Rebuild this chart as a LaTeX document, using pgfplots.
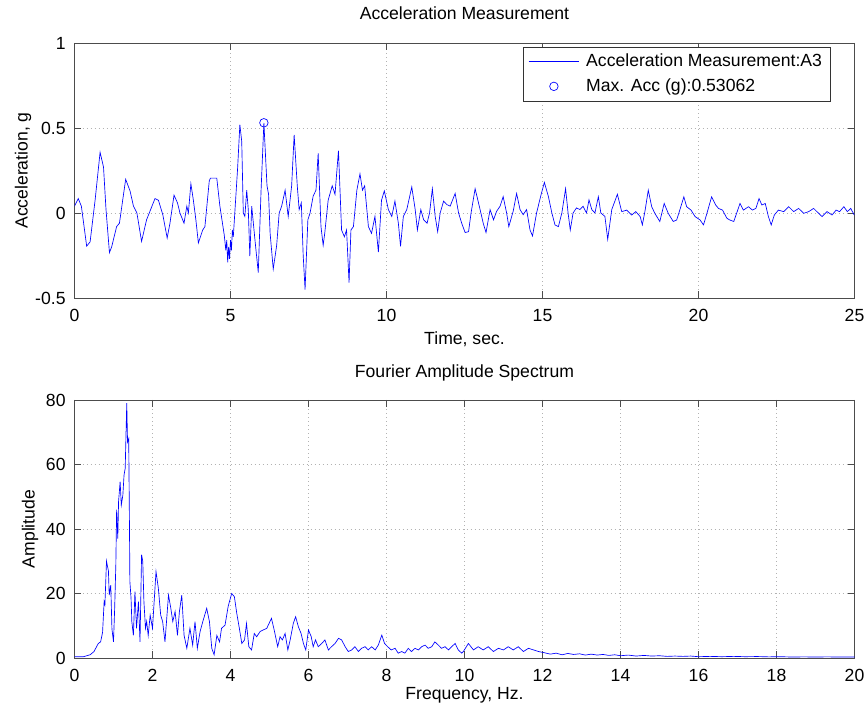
\documentclass[border=0pt]{standalone}
\usepackage{fontspec}
\setmainfont{Liberation Sans}
\usepackage{pgfplots}
\pgfplotsset{compat=1.18}

\pgfplotstableread{
t a
0 0.04
0.12 0.085
0.22 0.04
0.39 -0.195
0.5 -0.17
0.66 0.075
0.82 0.357
0.93 0.27
1.01 0.02
1.12 -0.233
1.19 -0.2
1.35 -0.08
1.44 -0.06
1.64 0.198
1.78 0.13
1.89 0.04
2.0 0.0
2.15 -0.167
2.31 -0.04
2.58 0.085
2.69 0.075
2.83 -0.01
2.97 -0.147
3.06 -0.06
3.19 0.105
3.3 0.06
3.38 0.0
3.51 -0.06
3.6 0.04
3.65 0.0
3.73 0.172
3.81 0.075
3.89 -0.04
3.97 -0.176
4.11 -0.1
4.18 -0.08
4.32 0.19
4.36 0.205
4.56 0.205
4.66 0.04
4.8 -0.13
4.85 -0.22
4.88 -0.16
4.91 -0.29
4.94 -0.2
4.97 -0.27
5.0 -0.16
5.03 -0.22
5.06 -0.1
5.09 -0.14
5.23 0.27
5.30 0.52
5.36 0.42
5.41 0.0
5.46 -0.02
5.52 0.134
5.57 0.02
5.62 -0.254
5.68 0.04
5.79 -0.17
5.89 -0.35
5.98 0.134
6.07 0.5306
6.17 0.16
6.22 0.11
6.27 -0.12
6.37 -0.33
6.48 -0.19
6.56 0.0
6.64 0.04
6.75 0.134
6.85 -0.02
6.96 0.16
7.04 0.46
7.14 0.16
7.2 0.02
7.27 0.06
7.33 -0.25
7.39 -0.45
7.48 -0.04
7.55 0.0
7.65 0.1
7.74 0.134
7.81 0.35
7.9 -0.08
7.97 -0.19
8.02 -0.12
8.13 0.075
8.26 0.16
8.35 0.11
8.46 0.366
8.56 -0.1
8.65 -0.14
8.72 -0.1
8.8 -0.41
8.86 -0.1
8.94 -0.08
9.05 0.134
9.15 0.23
9.23 0.134
9.3 0.16
9.42 -0.08
9.52 -0.12
9.63 -0.02
9.74 -0.23
9.84 0.075
9.93 0.13
10.06 0.02
10.17 -0.02
10.27 0.07
10.38 -0.06
10.45 -0.196
10.54 -0.02
10.65 0.02
10.81 0.153
10.92 0.02
10.99 -0.1
11.1 0.02
11.19 -0.04
11.3 -0.06
11.38 0.0
11.47 0.143
11.56 -0.02
11.64 -0.11
11.72 0.0
11.83 0.07
11.93 0.05
12.04 0.04
12.2 0.115
12.31 0.0
12.41 -0.06
12.52 -0.115
12.63 -0.11
12.71 0.0
12.84 0.143
13.0 0.02
13.1 -0.06
13.19 -0.115
13.32 0.02
13.43 -0.04
13.53 0.01
13.64 0.04
13.74 0.096
13.85 0.0
13.92 -0.08
14.06 0.01
14.17 0.115
14.28 0.02
14.38 -0.01
14.49 0.02
14.6 -0.1
14.68 -0.135
14.81 0.0
14.95 0.105
15.06 0.18
15.19 0.096
15.3 0.0
15.4 -0.07
15.51 -0.08
15.62 0.0
15.74 0.143
15.82 0.0
15.89 -0.1
15.98 0.0
16.09 0.03
16.2 0.02
16.3 0.04
16.41 0.0
16.49 0.077
16.58 0.02
16.68 0.0
16.79 0.096
16.87 0.0
17.0 -0.02
17.09 -0.155
17.22 0.02
17.4 0.11
17.54 0.008
17.7 0.017
17.86 -0.012
17.99 0.008
18.13 -0.021
18.2 -0.07
18.29 0.017
18.39 0.134
18.5 0.037
18.6 -0.002
18.76 -0.05
18.9 0.056
19.03 -0.002
19.19 -0.05
19.3 -0.041
19.4 0.017
19.53 0.095
19.62 0.037
19.76 0.017
19.89 -0.021
20.05 -0.041
20.16 -0.07
20.27 -0.002
20.42 0.095
20.55 0.047
20.64 0.027
20.77 0.017
20.91 -0.031
21.0 -0.041
21.13 -0.05
21.24 0.008
21.33 0.056
21.44 0.017
21.6 0.037
21.73 0.017
21.84 0.027
21.94 0.085
22.03 0.047
22.14 0.056
22.24 -0.021
22.33 -0.07
22.43 -0.012
22.56 0.017
22.73 0.008
22.89 0.037
23.05 0.008
23.21 0.027
23.37 -0.002
23.53 0.008
23.69 0.027
23.85 -0.002
23.96 -0.021
24.12 0.008
24.28 -0.012
24.41 0.017
24.52 0.008
24.66 0.037
24.77 0.008
24.88 0.027
24.99 -0.012
}\acctable

\pgfplotstableread{
f A
0 0.4
0.23 0.4
0.4 1
0.5 2
0.61 4.5
0.67 5
0.72 8
0.76 17.5
0.78 16.5
0.82 30
0.87 27
0.89 19.5
0.93 22.6
0.96 9
1.0 5
1.03 15.4
1.06 29
1.08 46
1.11 37
1.13 48.5
1.17 54.7
1.2 47.4
1.24 50.5
1.27 56.7
1.3 58.8
1.32 69
1.34 79
1.36 67
1.39 68
1.41 40
1.42 23.7
1.45 18.5
1.47 11.3
1.51 7
1.55 20.6
1.59 9.2
1.64 17.5
1.68 5
1.72 32
1.75 30
1.78 17.5
1.82 9.2
1.85 11.3
1.89 7
1.94 13.3
2.0 9.2
2.09 26.8
2.15 21.6
2.21 13.3
2.26 11.3
2.32 5
2.41 19.5
2.47 15.4
2.52 11.3
2.58 14.4
2.64 7
2.69 14.4
2.75 19.5
2.81 7
2.88 3
2.96 9.2
3.03 4
3.09 11.3
3.15 3
3.22 8.2
3.29 11.3
3.39 15.4
3.46 11.3
3.52 3
3.58 1
3.65 7
3.72 5
3.77 9.2
3.86 10.2
3.94 16
4.03 20
4.1 19
4.16 13.9
4.22 9.7
4.29 4.5
4.36 5.6
4.41 10.7
4.47 3.5
4.54 2.5
4.61 7.6
4.67 6.6
4.76 8.2
4.84 8.7
4.93 9.2
5.05 12.3
5.12 8.7
5.21 3.5
5.27 6.6
5.33 5.6
5.4 7.6
5.47 2.5
5.53 5.6
5.61 10.7
5.67 12.8
5.74 9.7
5.81 7.6
5.87 4.5
5.93 2.5
6.0 8.7
6.07 6.6
6.12 3.5
6.18 5.6
6.25 3.5
6.34 4.5
6.42 5.6
6.51 2.5
6.59 3.5
6.68 4.5
6.77 6.1
6.85 5.6
6.94 3.5
7.02 2
7.11 2.5
7.19 3.5
7.28 2
7.36 3
7.45 3.5
7.53 2.5
7.62 3.5
7.71 2.5
7.79 4
7.88 7.1
7.95 4.5
8.03 3.5
8.12 2.5
8.22 3
8.3 1.5
8.39 2
8.47 1.5
8.56 3
8.64 2
8.73 3
8.82 2.5
8.9 3.5
8.99 4
9.07 3
9.16 3.5
9.24 5
9.33 4
9.41 3
9.5 3.5
9.59 2.5
9.67 3.5
9.76 4.5
9.84 2.5
9.93 1.5
9.97 2
10.1 4.5
10.23 2.5
10.35 3.5
10.48 2.5
10.61 3.5
10.74 2
10.87 3
11.0 2.5
11.12 3.5
11.25 2.5
11.38 3.5
11.51 2
11.64 3
11.77 2.5
11.9 2
12.06 1.6
12.2 1.2
12.35 1.5
12.5 1.0
12.65 1.4
12.8 1.1
12.95 1.3
13.1 0.9
13.25 1.2
13.4 0.9
13.55 1.1
13.7 0.8
13.85 1.0
14.0 0.7
14.2 0.9
14.4 0.6
14.6 0.8
14.8 0.6
15.0 0.7
15.2 0.5
15.4 0.6
15.6 0.5
15.8 0.6
16.0 0.4
16.3 0.5
16.6 0.4
16.9 0.5
17.2 0.4
17.5 0.45
17.8 0.35
18.1 0.4
18.4 0.3
18.7 0.35
19.0 0.3
19.3 0.35
19.6 0.3
20.0 0.3
}\fastable

\pgfplotsset{
  lineleg/.style={legend image code/.code={\draw[##1, draw=blue] (0pt,0pt) -- (38pt,0pt);}},
  markleg/.style={legend image code/.code={\draw[mark repeat=2,mark phase=2,##1, draw=blue] plot coordinates {(0pt,0pt) (19pt,0pt) (38pt,0pt)};}},
  mlab/.style={
    scale only axis,
    width=585pt,
    axis line style={black!70, line width=0.5pt},
    every tick/.style={black!70, line width=0.5pt},
    major tick length=5pt,
    tick align=inside,
    grid=major,
    major grid style={gray!60, dash pattern=on 1pt off 2pt, line width=0.4pt},
    /pgf/number format/assume math mode=true,
    tick label style={font=\fontsize{13.2}{15.8}\selectfont},
    xticklabel style={inner sep=0pt, anchor=north, yshift=-8pt},
    yticklabel style={inner sep=0pt, anchor=east, xshift=-6.5pt},
    title style={inner sep=0pt, anchor=base, font=\fontsize{13.2}{15.8}\selectfont},
    label style={font=\fontsize{13.2}{15.8}\selectfont},
    xlabel style={inner sep=0pt, anchor=north, at={(axis description cs:0.5,0)}, yshift=-25pt},
    ylabel style={inner sep=0pt, anchor=south},
    clip=true,
  }
}

\begin{document}
\begin{tikzpicture}
\path[use as bounding box] (0pt,0pt) rectangle (651pt,531.75pt);

\begin{axis}[mlab,
  at={(55.875pt,308.25pt)}, anchor=south west,
  height=191.25pt,
  xmin=0, xmax=25, ymin=-0.5, ymax=1,
  xtick={0,5,10,15,20,25},
  ytick={-0.5,0,0.5,1},
  title={Acceleration Measurement},
  title style={at={(axis description cs:0.5,1)}, yshift=11.5pt},
  xlabel={Time, sec.},
  ylabel={Acceleration, g},
  ylabel style={at={(axis description cs:-0.055,0.5)}},
  legend style={at={(axis description cs:0.969,0.986)}, anchor=north east,
    draw=black!80, fill=white, line width=0.5pt,
    font=\fontsize{13.2}{15.8}\selectfont,
    inner xsep=4pt, inner ysep=3.5pt, row sep=3.5pt, column sep=3pt},
  legend cell align=left,
]
\addplot[blue, line width=0.5pt, lineleg]
  table[x=t, y=a] {\acctable};
\addlegendentry{Acceleration Measurement:A3}
\addplot[blue, only marks, mark=o, mark size=3.2pt, line width=0.5pt, markleg]
  coordinates {(6.07,0.53062)};
\addlegendentry{Max. Acc (g):0.53062}
\end{axis}

\begin{axis}[mlab,
  at={(55.875pt,38.25pt)}, anchor=south west,
  height=193.5pt,
  xmin=0, xmax=20, ymin=0, ymax=80,
  xtick={0,2,...,20},
  ytick={0,20,40,60,80},
  title={Fourier Amplitude Spectrum},
  title style={at={(axis description cs:0.5,1)}, yshift=10.5pt},
  xlabel={Frequency, Hz.},
  xlabel style={yshift=3pt},
  ylabel={Amplitude},
  ylabel style={at={(axis description cs:-0.046,0.5)}},
]
\addplot[blue, line width=0.5pt] table[x=f, y=A] {\fastable};
\end{axis}
\end{tikzpicture}
\end{document}
